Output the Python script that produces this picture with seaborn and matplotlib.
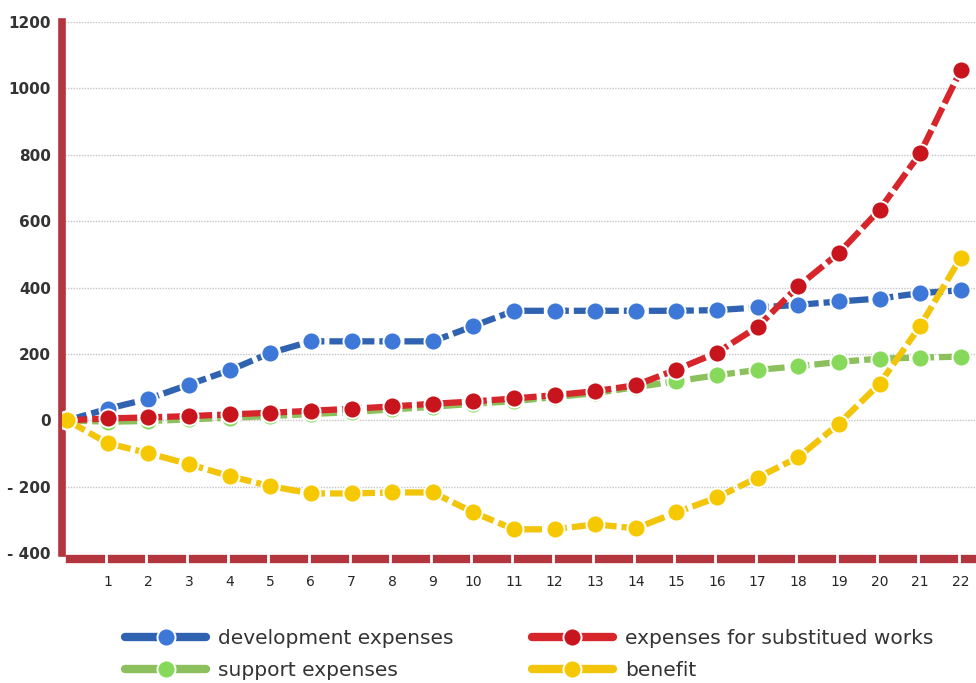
import matplotlib
matplotlib.use("Agg")
import matplotlib.pyplot as plt
import seaborn as sns
import pandas as pd
from matplotlib.lines import Line2D

x = list(range(23))
development = [0, 35, 65, 108, 151, 203, 238, 238, 238, 238, 284, 330, 330, 330, 330, 330, 332, 340, 348, 358, 367, 383, 392]
substituted = [0, 6, 9, 13, 18, 23, 29, 35, 42, 50, 57, 66, 76, 88, 106, 153, 204, 282, 404, 504, 634, 804, 1054]
support = [0, -4, -2, 3, 8, 13, 19, 25, 33, 41, 50, 58, 70, 82, 100, 118, 136, 152, 163, 176, 186, 189, 192]
benefit = [0, -69, -99, -132, -168, -198, -220, -220, -217, -217, -277, -328, -328, -313, -325, -277, -232, -172, -111, -10, 110, 284, 490]

labels = ["development expenses", "support expenses", "expenses for substitued works", "benefit"]
series = [development, support, substituted, benefit]
line_colors = ["#2f62b0", "#8cc05c", "#d6262b", "#f2c40a"]
marker_colors = ["#3d78d8", "#86d95a", "#c8141c", "#f6c800"]
yticks = [-400, -200, 0, 200, 400, 600, 800, 1000, 1200]
ytick_labels = ["- 400", "- 200", "0", "200", "400", "600", "800", "1000", "1200"]
xticks = list(range(1, 23))

sns.set_style("white")
plt.rcParams["font.family"] = ["DejaVu Sans"]

fig = plt.figure(figsize=(9.76, 6.83), dpi=100)
ax = fig.add_axes([0.0635, 0.19, 0.935, 0.778])

handles = []
for i in range(4):
    df = pd.DataFrame({"x": x, "y": series[i]})
    sns.lineplot(data=df, x="x", y="y", ax=ax, color=line_colors[i], linewidth=4.5,
                 linestyle=(0, (3.2, 0.8)), marker="o", markersize=13,
                 markerfacecolor=marker_colors[i], markeredgecolor="white",
                 markeredgewidth=1.4, zorder=3 + i, legend=False)
    handles.append(Line2D([0], [0], color=line_colors[i], linewidth=6, marker="o",
                          markersize=13, markerfacecolor=marker_colors[i],
                          markeredgecolor="white", markeredgewidth=1.4,
                          solid_capstyle="round"))

ax.set_xlim(-0.13, 22.34)
ax.set_ylim(-400, 1200)
ax.set_yticks(yticks)
ax.set_yticklabels(ytick_labels, fontsize=11, fontweight="bold", color="#333333")
ax.set_xticks(xticks)
ax.set_xticklabels([str(v) for v in xticks], fontsize=13, color="#333333")
ax.set_xlabel("")
ax.set_ylabel("")

ax.yaxis.grid(True, linestyle=(0, (1, 1)), color="#c4c4c4", linewidth=1)
ax.xaxis.grid(False)
ax.set_axisbelow(True)

for s in ["top", "right"]:
    ax.spines[s].set_visible(False)
ax.spines["left"].set_color("#b3363f")
ax.spines["left"].set_linewidth(5.5)
ax.spines["bottom"].set_color("#b3363f")
ax.spines["bottom"].set_linewidth(6)
ax.spines["bottom"].set_position(("outward", 4))
ax.spines["bottom"].set_bounds(0.07, 22.34)

ax.tick_params(axis="y", length=0, pad=8)
ax.tick_params(axis="x", length=0, pad=12)

# white separators on the bottom bar
for t in xticks:
    ax.plot([t - 0.05, t - 0.05], [-0.03, 0.0], transform=ax.get_xaxis_transform(),
            color="white", linewidth=2, clip_on=False, zorder=10)

leg = fig.legend(handles, labels, loc="lower left", bbox_to_anchor=(0.11, -0.022),
                 ncol=2, frameon=False, fontsize=14.5, handlelength=4.0,
                 columnspacing=3.9, labelspacing=0.62, handletextpad=0.6)
for t in leg.get_texts():
    t.set_color("#333333")

fig.savefig("out.png", dpi=100)
